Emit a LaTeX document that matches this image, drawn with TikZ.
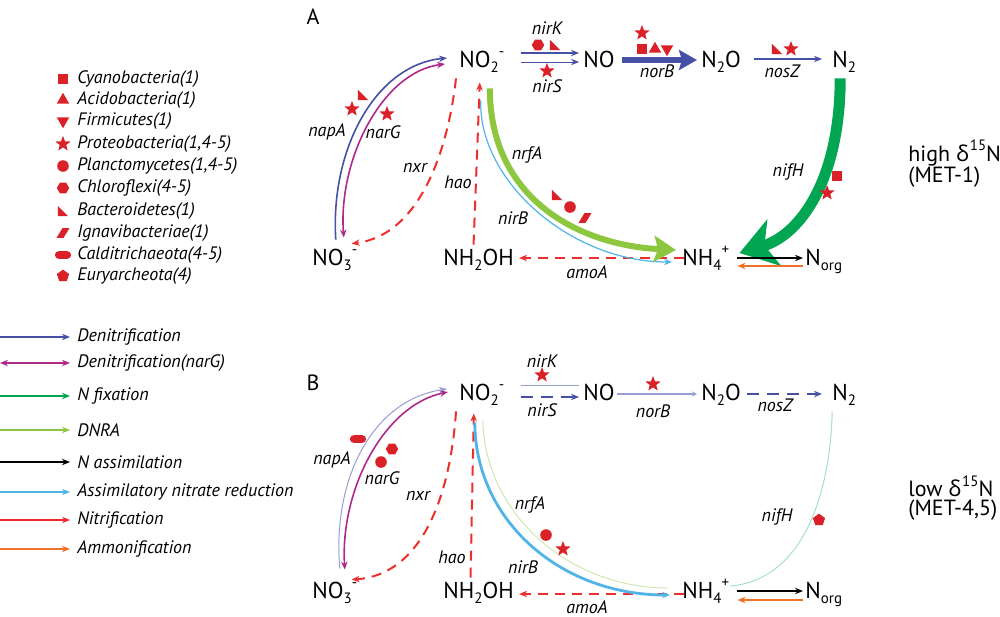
\documentclass[tikz,border=0pt]{standalone}
\usepackage{fontspec}
\setmainfont{PT Sans}
\newfontfamily\greekfont{Open Sans}
\usetikzlibrary{arrows.meta}

\definecolor{denitblue}{RGB}{70,80,165}
\definecolor{paleblue}{RGB}{150,158,212}
\definecolor{narmag}{RGB}{175,40,140}
\definecolor{fixgreen}{RGB}{0,166,81}
\definecolor{dnragreen}{RGB}{141,198,63}
\definecolor{palednra}{RGB}{208,230,178}
\definecolor{palefix}{RGB}{165,225,195}
\definecolor{assimblue}{RGB}{80,180,230}
\definecolor{nitrired}{RGB}{238,45,45}
\definecolor{ammorange}{RGB}{242,113,40}
\definecolor{symred}{RGB}{218,33,40}

\newcommand{\chsub}[1]{\raisebox{-2.6pt}{\fontsize{7.5}{8}\selectfont #1}}
\newcommand{\chsup}[1]{\raisebox{5.2pt}{\fontsize{7.5}{8}\selectfont #1}}

\tikzset{
  chem/.style={anchor=base west, inner sep=1pt, text height=9pt, text depth=3pt,
    font=\fontsize{11.5}{12}\selectfont},
  gene/.style={inner sep=1pt, font=\fontsize{9}{10}\selectfont\itshape},
  legtext/.style={anchor=west, inner sep=2pt, font=\fontsize{9}{10}\selectfont\itshape},
  panel/.style={inner sep=0pt, font=\fontsize{11}{12}\selectfont},
  side/.style={anchor=west, inner sep=0pt, font=\fontsize{11}{12}\selectfont},
  tip/.style={-{Stealth[length=4pt,width=3.2pt]}},
  denit/.style={draw=denitblue, line width=0.8pt, tip},
  narg/.style={draw=narmag, line width=0.8pt, {Stealth[length=4pt,width=3.2pt]}-{Stealth[length=4pt,width=3.2pt]}},
  fix/.style={draw=fixgreen, line width=0.8pt, tip},
  dnra/.style={draw=dnragreen, line width=0.8pt, tip},
  assim/.style={draw=assimblue, line width=0.6pt, tip},
  nitri/.style={draw=nitrired, line width=1pt, dash pattern=on 5pt off 3.5pt, tip},
  nassim/.style={draw=black, line width=0.8pt, tip},
  ammon/.style={draw=ammorange, line width=0.8pt, tip},
  % organism symbols
  cyano/.pic={\fill[symred] (-2.6pt,-2.6pt) rectangle (2.6pt,2.6pt);},
  acido/.pic={\fill[symred] (90:3.6pt) -- (210:3.6pt) -- (330:3.6pt) -- cycle;},
  firmi/.pic={\fill[symred] (270:3.6pt) -- (30:3.6pt) -- (150:3.6pt) -- cycle;},
  proteo/.pic={\fill[symred] (90:4pt) -- (126:1.7pt) -- (162:4pt) -- (198:1.7pt) -- (234:4pt)
    -- (270:1.7pt) -- (306:4pt) -- (342:1.7pt) -- (18:4pt) -- (54:1.7pt) -- cycle;},
  plancto/.pic={\fill[symred] (0,0) circle (2.9pt);},
  chloro/.pic={\fill[symred] (0:3.1pt) -- (60:3.1pt) -- (120:3.1pt) -- (180:3.1pt)
    -- (240:3.1pt) -- (300:3.1pt) -- cycle;},
  bactero/.pic={\fill[symred] (-2.6pt,2.6pt) -- (-2.6pt,-2.6pt) -- (2.6pt,-2.6pt) -- cycle;},
  ignavi/.pic={\fill[symred] (-3.2pt,-2.4pt) -- (0.3pt,-2.4pt) -- (3.2pt,2.4pt) -- (-0.3pt,2.4pt) -- cycle;},
  caldi/.pic={\fill[symred, rounded corners=1.8pt] (-4pt,-1.9pt) rectangle (4pt,1.9pt);},
  eurya/.pic={\fill[symred] (90:3.2pt) -- (162:3.2pt) -- (234:3.2pt) -- (306:3.2pt) -- (18:3.2pt) -- cycle;}
}

\begin{document}
\begin{tikzpicture}[x=0.5pt, y=-0.5pt]
\useasboundingbox (0,0) rectangle (1000,616);

% legend of organisms
\pic at (63,79) {cyano};    \node[legtext] (lcyano) at (73,79) {Cyanobacteria(1)};
\pic at (63,100) {acido};   \node[legtext] (lacido) at (73,100) {Acidobacteria(1)};
\pic at (63,121) {firmi};   \node[legtext] (lfirmi) at (73,121) {Firmicutes(1)};
\pic at (63,144) {proteo};  \node[legtext] (lproteo) at (73,144) {Proteobacteria(1,4-5)};
\pic at (63,166) {plancto}; \node[legtext] (lplancto) at (73,166) {Planctomycetes(1,4-5)};
\pic at (63,188) {chloro};  \node[legtext] (lchloro) at (73,188) {Chloroflexi(4-5)};
\pic at (63,211) {bactero}; \node[legtext] (lbactero) at (73,211) {Bacteroidetes(1)};
\pic at (63,233) {ignavi};  \node[legtext] (lignavi) at (73,233) {Ignavibacteriae(1)};
\pic at (63,255) {caldi};   \node[legtext] (lcaldi) at (73,255) {Calditrichaeota(4-5)};
\pic at (63,276) {eurya};   \node[legtext] (leurya) at (73,276) {Euryarcheota(4)};

% legend of processes
\node[legtext] (ldenit) at (73,337) {Denitrification};
\node[legtext] (lnarg) at (73,363) {Denitrification(narG)};
\node[legtext] (lfix) at (73,396) {N fixation};
\node[legtext] (ldnra) at (73,430) {DNRA};
\node[legtext] (lnassim) at (73,462) {N assimilation};
\node[legtext] (lassim) at (73,492) {Assimilatory nitrate reduction};
\node[legtext] (lnitri) at (73,520) {Nitrification};
\node[legtext] (lammon) at (73,549) {Ammonification};
\draw[denit] ([xshift=-36.5pt]ldenit.west) -- ([xshift=-1.5pt]ldenit.west);
\draw[narg] ([xshift=-36.5pt]lnarg.west) -- ([xshift=-1.5pt]lnarg.west);
\draw[fix] ([xshift=-36.5pt]lfix.west) -- ([xshift=-1.5pt]lfix.west);
\draw[dnra] ([xshift=-36.5pt]ldnra.west) -- ([xshift=-1.5pt]ldnra.west);
\draw[nassim] ([xshift=-36.5pt]lnassim.west) -- ([xshift=-1.5pt]lnassim.west);
\draw[assim, line width=0.8pt] ([xshift=-36.5pt]lassim.west) -- ([xshift=-1.5pt]lassim.west);
\draw[nitri, solid, line width=0.8pt] ([xshift=-36.5pt]lnitri.west) -- ([xshift=-1.5pt]lnitri.west);
\draw[ammon] ([xshift=-36.5pt]lammon.west) -- ([xshift=-1.5pt]lammon.west);

% panel A: high d15N
\node[panel] (laba) at (313,17) {A};
\node[chem] (no2a) at (457,67) {NO\chsub{2}\chsup{-}};
\node[chem] (noa) at (581,67) {NO};
\node[chem] (n2oa) at (699,67) {N\chsub{2}O};
\node[chem] (n2a) at (830,67) {N\chsub{2}};
\node[chem] (no3a) at (310,265) {NO\chsub{3}\chsup{-}};
\node[chem] (nh2oha) at (441,265) {NH\chsub{2}OH};
\node[chem] (nh4a) at (680,265) {NH\chsub{4}\chsup{+}};
\node[chem] (norga) at (803,265) {N\chsub{org}};

\draw[denit, line width=1.2pt] ([xshift=7pt,yshift=4pt]no2a.east) -- ([xshift=-1pt,yshift=4pt]noa.west);
\draw[denit, line width=0.5pt] ([xshift=7pt,yshift=-0.5pt]no2a.east) -- ([xshift=-1pt,yshift=-0.5pt]noa.west);
\draw[denit, line width=2.6pt, -{Stealth[length=9pt,width=10pt,inset=1.5pt]}] ([xshift=2.5pt,yshift=0.5pt]noa.east) -- ([xshift=-1pt,yshift=0.5pt]n2oa.west);
\draw[denit] ([xshift=5.5pt,yshift=1pt]n2oa.east) -- ([xshift=-4pt,yshift=1pt]n2a.west);
\draw[fix, line width=5.5pt, -{Stealth[length=18pt,width=24pt,inset=5pt]}] ([xshift=-2pt,yshift=-1.5pt]n2a.south) .. controls (840,180) and (800,235) .. ([xshift=4pt,yshift=3pt]nh4a.east);
\draw[nassim] ([xshift=3pt,yshift=0.5pt]nh4a.east) -- ([yshift=0.5pt]norga.west);
\draw[ammon] ([yshift=-3.5pt]norga.west) -- ([xshift=3pt,yshift=-3.5pt]nh4a.east);
\draw[denit] ([xshift=0.5pt,yshift=2.5pt]no3a.north) .. controls (330,150) and (375,65) .. ([xshift=-5pt,yshift=1.5pt]no2a.west);
\draw[narg] ([xshift=4.5pt,yshift=3.5pt]no3a.north) .. controls (338,160) and (382,72) .. ([xshift=-6pt,yshift=-1.5pt]no2a.west);
\draw[nitri] ([xshift=-0.5pt,yshift=-1.5pt]no2a.south west) .. controls (448,150) and (420,235) .. ([xshift=-4pt,yshift=0.5pt]no3a.north east);
\draw[nitri] ([xshift=-2.5pt]nh2oha.north) -- ([xshift=-1pt,yshift=-3.5pt]no2a.south);
\draw[nitri] ([xshift=2pt,yshift=0.5pt]nh4a.west) -- ([xshift=1.5pt,yshift=0.5pt]nh2oha.east);
\draw[assim] ([xshift=-0.5pt,yshift=-12.5pt]no2a.south) .. controls (478,180) and (570,262) .. ([xshift=-4pt,yshift=-1.5pt]nh4a.west);
\draw[dnra, line width=3pt, -{Stealth[length=11pt,width=13pt,inset=2pt]}] ([xshift=4pt,yshift=-6.5pt]no2a.south) .. controls (490,200) and (580,245) .. ([xshift=-2pt,yshift=4.5pt]nh4a.west);

\node[gene] (nirka) at (547,28) {nirK};
\node[gene] (nirsa) at (547,86) {nirS};
\node[gene] (norba) at (657,71) {norB};
\node[gene] (nosza) at (782,71) {nosZ};
\node[gene] (nifha) at (788,172) {nifH};
\node[gene] (napaa) at (327,132) {napA};
\node[gene] (narga) at (383,132) {narG};
\node[gene] (nxra) at (415,168) {nxr};
\node[gene] (haoa) at (458,182) {hao};
\node[gene] (nrfaa) at (527,155) {nrfA};
\node[gene] (nirba) at (513,218) {nirB};
\node[gene] (amoaa) at (587,272) {amoA};
\pic at (538,45) {chloro};  \pic at (555,45) {bactero};
\pic at (547,71) {proteo};
\pic at (642,33) {proteo};  \pic at (642,49) {cyano};
\pic at (655,49) {acido};   \pic at (667,49) {firmi};
\pic at (777,49) {bactero}; \pic at (791,49) {proteo};
\pic at (837,176) {cyano};  \pic at (827,193) {proteo};
\pic at (363,95) {bactero}; \pic at (352,109) {proteo};
\pic at (387,114) {proteo};
\pic at (557,195) {bactero}; \pic at (570,207) {plancto};
\pic at (585,218) {ignavi};

\node[side] (higha) at (908,153) {high {\greekfont δ}\kern0.5pt\chsup{15}N};
\node[side] (meta) at (908,177) {(MET-1)};

% panel B: low d15N
\node[panel] (labb) at (313,383) {B};
\node[chem] (no2b) at (457,400) {NO\chsub{2}\chsup{-}};
\node[chem] (nob) at (581,400) {NO};
\node[chem] (n2ob) at (699,400) {N\chsub{2}O};
\node[chem] (n2b) at (830,400) {N\chsub{2}};
\node[chem] (no3b) at (310,598) {NO\chsub{3}\chsup{-}};
\node[chem] (nh2ohb) at (441,598) {NH\chsub{2}OH};
\node[chem] (nh4b) at (680,598) {NH\chsub{4}\chsup{+}};
\node[chem] (norgb) at (803,598) {N\chsub{org}};

\draw[draw=paleblue, line width=0.5pt] ([xshift=7pt,yshift=4.5pt]no2b.east) -- ([xshift=-1pt,yshift=4.5pt]nob.west);
\draw[denit, dash pattern=on 6pt off 4pt] ([xshift=7pt,yshift=-1.5pt]no2b.east) -- ([xshift=-1pt,yshift=-1.5pt]nob.west);
\draw[draw=paleblue, line width=0.6pt, -{Stealth[length=2.5pt,width=2.5pt]}] (nob.east) -- ([xshift=-1pt]n2ob.west);
\draw[denit, dash pattern=on 6pt off 4pt] ([xshift=2pt]n2ob.east) -- ([xshift=-4pt]n2b.west);
\draw[draw=palefix, line width=0.5pt] ([xshift=-6pt,yshift=-1.5pt]n2b.south) .. controls (830,500) and (800,580) .. ([xshift=-0.5pt,yshift=3pt]nh4b.east);
\draw[nassim] ([xshift=3pt,yshift=0.5pt]nh4b.east) -- ([yshift=0.5pt]norgb.west);
\draw[ammon] ([yshift=-4pt]norgb.west) -- ([xshift=3pt,yshift=-4pt]nh4b.east);
\draw[draw=paleblue, line width=0.5pt, tip] ([xshift=2.5pt,yshift=4.5pt]no3b.north) .. controls (332,480) and (372,400) .. ([xshift=-5pt,yshift=2.5pt]no2b.west);
\draw[narg] ([xshift=5pt,yshift=4pt]no3b.north) .. controls (340,490) and (384,405) .. ([xshift=-4.5pt,yshift=1pt]no2b.west);
\draw[nitri] ([xshift=-0.5pt,yshift=-1.5pt]no2b.south west) .. controls (450,500) and (420,575) .. ([xshift=-4pt,yshift=-1pt]no3b.north east);
\draw[nitri] ([xshift=-4pt]nh2ohb.north) -- ([xshift=-4pt,yshift=-2.5pt]no2b.south);
\draw[nitri] ([xshift=2pt,yshift=-1pt]nh4b.west) -- ([xshift=1.5pt,yshift=-1pt]nh2ohb.east);
\draw[draw=palednra, line width=0.5pt] ([xshift=0.5pt,yshift=-6pt]no2b.south) .. controls (485,515) and (570,588) .. ([xshift=-6pt,yshift=2pt]nh4b.west);
\draw[assim, line width=1.4pt] ([xshift=-3.5pt,yshift=-7pt]no2b.south) .. controls (475,520) and (560,595) .. ([xshift=-5pt,yshift=-1.5pt]nh4b.west);

\node[gene] (nirkb) at (542,361) {nirK};
\node[gene] (nirsb) at (542,410) {nirS};
\node[gene] (norbb) at (653,411) {norB};
\node[gene] (noszb) at (775,405) {nosZ};
\node[gene] (nifhb) at (777,517) {nifH};
\node[gene] (napab) at (332,460) {napA};
\node[gene] (nargb) at (382,478) {narG};
\node[gene] (nxrb) at (418,496) {nxr};
\node[gene] (haob) at (452,557) {hao};
\node[gene] (nrfab) at (530,505) {nrfA};
\node[gene] (nirbb) at (523,567) {nirB};
\node[gene] (amoab) at (587,607) {amoA};
\pic at (542,375) {proteo};
\pic at (653,384) {proteo};
\pic at (819,520) {eurya};
\pic at (358,439) {caldi};  \pic at (392,449) {chloro};
\pic at (381,462) {plancto};
\pic at (546,535) {plancto}; \pic at (563,549) {proteo};

\node[side] (lowb) at (908,486) {low {\greekfont δ}\kern0.5pt\chsup{15}N};
\node[side] (metb) at (908,510) {(MET-4,5)};
\end{tikzpicture}
\end{document}
